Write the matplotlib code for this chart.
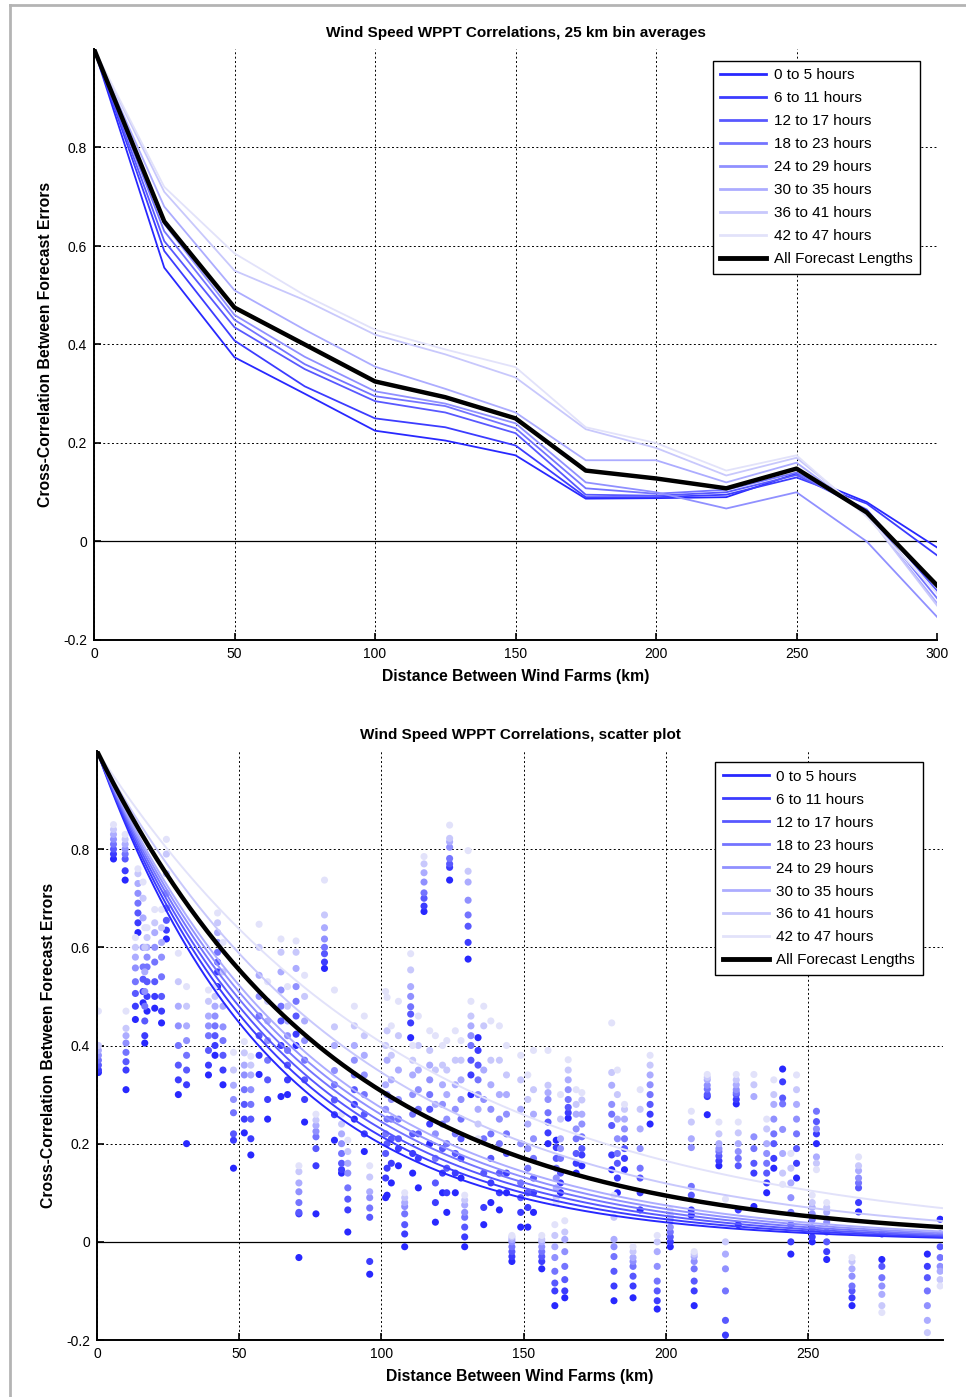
import numpy as np
import matplotlib
matplotlib.use("Agg")
import matplotlib.pyplot as plt
from matplotlib.lines import Line2D

plt.rcParams["font.family"] = ["Liberation Sans", "DejaVu Sans"]

# ---------------------------------------------------------------- labels / colours
horizon_labels = ["0 to 5 hours", "6 to 11 hours", "12 to 17 hours", "18 to 23 hours",
                  "24 to 29 hours", "30 to 35 hours", "36 to 41 hours", "42 to 47 hours"]
all_label = "All Forecast Lengths"
horizon_colors = ["#2828ff", "#3c3cff", "#5858ff", "#7474ff",
                  "#9090ff", "#acacff", "#c8c8fc", "#e2e2fa"]

# ---------------------------------------------------------------- 25 km bin averages
bin_km = [0, 25, 50, 75, 100, 125, 150, 175, 200, 225, 250, 275, 300]
bin_corr_00_05 = [1.0, 0.556, 0.374, 0.300, 0.225, 0.205, 0.175, 0.087, 0.088, 0.090, 0.138, 0.080, -0.012]
bin_corr_06_11 = [1.0, 0.590, 0.408, 0.315, 0.250, 0.232, 0.195, 0.090, 0.090, 0.095, 0.130, 0.077, -0.028]
bin_corr_12_17 = [1.0, 0.610, 0.435, 0.350, 0.285, 0.262, 0.220, 0.095, 0.093, 0.100, 0.135, 0.065, -0.100]
bin_corr_18_23 = [1.0, 0.630, 0.450, 0.360, 0.295, 0.275, 0.230, 0.108, 0.097, 0.105, 0.140, 0.060, -0.115]
bin_corr_24_29 = [1.0, 0.645, 0.460, 0.375, 0.305, 0.280, 0.240, 0.120, 0.100, 0.067, 0.100, 0.000, -0.153]
bin_corr_30_35 = [1.0, 0.680, 0.510, 0.430, 0.355, 0.310, 0.262, 0.165, 0.165, 0.120, 0.160, 0.055, -0.125]
bin_corr_36_41 = [1.0, 0.710, 0.550, 0.490, 0.420, 0.380, 0.333, 0.228, 0.190, 0.134, 0.170, 0.055, -0.130]
bin_corr_42_47 = [1.0, 0.720, 0.585, 0.500, 0.430, 0.390, 0.354, 0.232, 0.200, 0.144, 0.175, 0.050, -0.105]
bin_corr_all = [1.0, 0.650, 0.475, 0.400, 0.325, 0.293, 0.250, 0.144, 0.128, 0.108, 0.148, 0.059, -0.089]

# ---------------------------------------------------------------- exponential fits, e-folding length (km)
fit_length_km = [62, 65, 68, 71, 74, 77, 94, 111]
fit_length_all_km = 84.7

# ---------------------------------------------------------------- farm pairs: (km, corr per horizon 0-5h ... 42-47h)
pairs_000_050 = [
    (0.5, 0.345, 0.35, 0.36, 0.37, 0.38, 0.39, 0.40, 0.47),
    (5.8, 0.78, 0.79, 0.80, 0.81, 0.82, 0.83, 0.84, 0.85),
    (9.9, 0.737, 0.756, 0.78, 0.79, 0.80, 0.81, 0.82, 0.83),
    (10.2, 0.31, 0.35, 0.367, 0.386, 0.405, 0.42, 0.435, 0.47),
    (13.5, 0.453, 0.48, 0.506, 0.53, 0.558, 0.58, 0.60, 0.62),
    (14.4, 0.63, 0.65, 0.67, 0.69, 0.71, 0.73, 0.75, 0.76),
    (16.2, 0.487, 0.51, 0.535, 0.56, 0.60, 0.66, 0.70, 0.733),
    (16.8, 0.405, 0.42, 0.45, 0.48, 0.51, 0.55, 0.60, 0.64),
    (17.6, 0.47, 0.50, 0.53, 0.56, 0.58, 0.60, 0.62, 0.64),
    (20.3, 0.476, 0.50, 0.53, 0.57, 0.60, 0.63, 0.65, 0.677),
    (22.7, 0.446, 0.47, 0.50, 0.54, 0.58, 0.61, 0.64, 0.677),
    (24.4, 0.617, 0.635, 0.655, 0.68, 0.71, 0.75, 0.79, 0.82),
    (28.6, 0.30, 0.33, 0.36, 0.40, 0.44, 0.48, 0.53, 0.588),
    (31.5, 0.20, 0.32, 0.35, 0.38, 0.41, 0.44, 0.48, 0.52),
    (39.2, 0.34, 0.36, 0.39, 0.42, 0.44, 0.46, 0.49, 0.513),
    (41.5, 0.38, 0.40, 0.42, 0.44, 0.46, 0.48, 0.50, 0.52),
    (42.4, 0.52, 0.55, 0.57, 0.59, 0.61, 0.63, 0.65, 0.67),
    (44.3, 0.32, 0.35, 0.38, 0.41, 0.438, 0.48, 0.55, 0.61),
    (48.0, 0.15, 0.207, 0.22, 0.263, 0.29, 0.319, 0.35, 0.386),
]
pairs_050_100 = [
    (51.8, 0.222, 0.25, 0.28, 0.31, 0.34, 0.36, 0.385, 0.408),
    (54.1, 0.177, 0.21, 0.25, 0.28, 0.31, 0.34, 0.36, 0.378),
    (57.0, 0.341, 0.38, 0.42, 0.46, 0.50, 0.543, 0.60, 0.647),
    (60.0, 0.25, 0.29, 0.33, 0.37, 0.41, 0.45, 0.49, 0.53),
    (64.7, 0.296, 0.40, 0.45, 0.48, 0.513, 0.55, 0.59, 0.617),
    (67.0, 0.30, 0.33, 0.36, 0.39, 0.42, 0.45, 0.48, 0.52),
    (70.0, 0.40, 0.423, 0.46, 0.49, 0.52, 0.557, 0.59, 0.613),
    (71.0, -0.032, 0.057, 0.06, 0.08, 0.102, 0.12, 0.143, 0.155),
    (73.0, 0.244, 0.29, 0.33, 0.37, 0.41, 0.45, 0.50, 0.543),
    (77.0, 0.057, 0.155, 0.19, 0.214, 0.225, 0.237, 0.248, 0.26),
    (80.0, 0.557, 0.57, 0.587, 0.60, 0.617, 0.64, 0.666, 0.737),
    (83.5, 0.207, 0.259, 0.289, 0.32, 0.349, 0.40, 0.438, 0.513),
    (86.0, 0.14, 0.147, 0.16, 0.18, 0.20, 0.22, 0.24, 0.26),
    (88.2, 0.02, 0.065, 0.087, 0.11, 0.14, 0.16, 0.184, 0.207),
    (90.5, 0.25, 0.28, 0.31, 0.34, 0.37, 0.40, 0.44, 0.48),
    (94.0, 0.184, 0.22, 0.26, 0.30, 0.34, 0.38, 0.42, 0.46),
    (95.9, -0.066, -0.04, 0.05, 0.069, 0.09, 0.102, 0.132, 0.155),
]
pairs_100_150 = [
    (101.5, 0.09, 0.13, 0.18, 0.22, 0.27, 0.32, 0.40, 0.51),
    (102.0, 0.095, 0.15, 0.20, 0.25, 0.30, 0.37, 0.43, 0.498),
    (103.5, 0.12, 0.16, 0.21, 0.25, 0.29, 0.33, 0.38, 0.44),
    (106.0, 0.155, 0.19, 0.21, 0.25, 0.29, 0.35, 0.42, 0.49),
    (108.2, -0.01, 0.016, 0.035, 0.057, 0.072, 0.08, 0.09, 0.10),
    (110.3, 0.416, 0.446, 0.464, 0.479, 0.50, 0.52, 0.554, 0.587),
    (111.0, 0.14, 0.18, 0.22, 0.26, 0.30, 0.34, 0.37, 0.40),
    (113.0, 0.11, 0.17, 0.22, 0.27, 0.31, 0.35, 0.40, 0.46),
    (115.0, 0.673, 0.684, 0.70, 0.711, 0.733, 0.752, 0.77, 0.785),
    (117.0, 0.20, 0.24, 0.27, 0.30, 0.33, 0.36, 0.39, 0.43),
    (119.0, 0.04, 0.08, 0.12, 0.17, 0.22, 0.28, 0.35, 0.42),
    (121.5, 0.10, 0.14, 0.19, 0.24, 0.28, 0.32, 0.36, 0.40),
    (123.0, 0.06, 0.10, 0.15, 0.20, 0.25, 0.30, 0.35, 0.41),
    (124.0, 0.737, 0.763, 0.77, 0.781, 0.804, 0.815, 0.822, 0.849),
    (126.0, 0.10, 0.14, 0.18, 0.22, 0.27, 0.32, 0.37, 0.43),
    (128.0, 0.13, 0.17, 0.21, 0.25, 0.29, 0.33, 0.37, 0.41),
    (129.3, -0.01, 0.01, 0.03, 0.05, 0.06, 0.075, 0.085, 0.095),
    (130.5, 0.576, 0.61, 0.643, 0.666, 0.696, 0.733, 0.755, 0.797),
    (131.5, 0.30, 0.34, 0.37, 0.40, 0.42, 0.44, 0.46, 0.49),
    (134.0, 0.416, 0.39, 0.36, 0.33, 0.30, 0.27, 0.24, 0.21),
    (136.0, 0.035, 0.07, 0.14, 0.21, 0.29, 0.35, 0.44, 0.48),
    (138.5, 0.08, 0.12, 0.17, 0.22, 0.27, 0.32, 0.37, 0.45),
    (141.5, 0.065, 0.10, 0.14, 0.20, 0.25, 0.30, 0.37, 0.44),
    (144.0, 0.10, 0.14, 0.18, 0.22, 0.26, 0.30, 0.34, 0.40),
    (145.9, -0.04, -0.03, -0.02, -0.01, 0.0, 0.005, 0.01, 0.013),
    (149.0, 0.03, 0.06, 0.09, 0.12, 0.20, 0.27, 0.33, 0.38),
]
pairs_150_200 = [
    (151.5, 0.03, 0.07, 0.10, 0.15, 0.19, 0.24, 0.29, 0.34),
    (153.5, 0.06, 0.10, 0.13, 0.17, 0.21, 0.26, 0.31, 0.39),
    (156.4, -0.055, -0.04, -0.03, -0.02, -0.01, 0.0, 0.005, 0.013),
    (158.6, 0.20, 0.222, 0.244, 0.263, 0.29, 0.304, 0.319, 0.39),
    (161.0, -0.13, -0.10, -0.084, -0.06, -0.032, -0.01, 0.013, 0.035),
    (161.5, 0.207, 0.192, 0.17, 0.15, 0.13, 0.11, 0.09, 0.08),
    (163.0, 0.10, 0.12, 0.14, 0.17, 0.19, 0.21, 0.25, 0.30),
    (164.5, -0.114, -0.10, -0.077, -0.05, -0.02, 0.005, 0.02, 0.043),
    (165.7, 0.252, 0.263, 0.274, 0.29, 0.31, 0.33, 0.35, 0.371),
    (168.5, 0.14, 0.16, 0.18, 0.21, 0.23, 0.26, 0.28, 0.31),
    (170.5, 0.155, 0.177, 0.19, 0.214, 0.24, 0.26, 0.289, 0.304),
    (181.0, 0.147, 0.177, 0.237, 0.26, 0.28, 0.319, 0.345, 0.446),
    (181.8, -0.12, -0.09, -0.06, -0.03, -0.01, 0.005, 0.05, 0.095),
    (183.0, 0.10, 0.13, 0.16, 0.18, 0.21, 0.25, 0.30, 0.35),
    (185.5, 0.147, 0.17, 0.19, 0.21, 0.23, 0.25, 0.27, 0.28),
    (188.5, -0.114, -0.09, -0.07, -0.05, -0.04, -0.032, -0.02, -0.01),
    (191.0, 0.065, 0.10, 0.13, 0.15, 0.19, 0.23, 0.27, 0.31),
    (194.5, 0.24, 0.26, 0.28, 0.30, 0.32, 0.34, 0.36, 0.38),
    (197.0, -0.137, -0.12, -0.10, -0.08, -0.05, -0.02, 0.0, 0.013),
]
pairs_200_300 = [
    (201.6, -0.01, 0.0, 0.01, 0.02, 0.03, 0.045, 0.055, 0.065),
    (209.0, 0.054, 0.065, 0.095, 0.113, 0.192, 0.21, 0.244, 0.266),
    (210.0, -0.13, -0.10, -0.08, -0.055, -0.04, -0.03, -0.025, -0.02),
    (214.6, 0.259, 0.296, 0.30, 0.311, 0.319, 0.33, 0.335, 0.341),
    (218.7, 0.155, 0.165, 0.175, 0.184, 0.19, 0.20, 0.22, 0.244),
    (221.0, -0.204, -0.19, -0.16, -0.10, -0.055, -0.025, 0.0, 0.087),
    (224.8, 0.281, 0.29, 0.30, 0.304, 0.31, 0.32, 0.33, 0.341),
    (225.5, 0.035, 0.065, 0.155, 0.17, 0.184, 0.20, 0.222, 0.244),
    (231.0, 0.072, 0.14, 0.16, 0.19, 0.214, 0.296, 0.32, 0.341),
    (235.5, 0.10, 0.12, 0.14, 0.16, 0.18, 0.20, 0.23, 0.25),
    (238.0, 0.15, 0.17, 0.20, 0.22, 0.25, 0.28, 0.30, 0.33),
    (241.1, 0.352, 0.326, 0.293, 0.281, 0.229, 0.18, 0.14, 0.117),
    (244.0, -0.025, 0.0, 0.035, 0.06, 0.09, 0.12, 0.15, 0.18),
    (246.0, 0.13, 0.16, 0.19, 0.22, 0.25, 0.28, 0.31, 0.34),
    (251.5, 0.0, 0.01, 0.028, 0.045, 0.057, 0.07, 0.08, 0.095),
    (253.0, 0.20, 0.22, 0.245, 0.266, 0.23, 0.173, 0.16, 0.147),
    (256.6, -0.036, -0.02, 0.0, 0.02, 0.04, 0.06, 0.07, 0.08),
    (265.5, -0.13, -0.114, -0.10, -0.09, -0.07, -0.055, -0.04, -0.032),
    (267.8, 0.061, 0.08, 0.11, 0.12, 0.13, 0.145, 0.155, 0.173),
    (276.0, -0.036, 0.016, -0.05, -0.073, -0.09, -0.107, -0.13, -0.144),
    (292.0, -0.025, -0.05, -0.073, -0.10, -0.13, -0.16, -0.185, -0.204),
    (296.5, 0.046, 0.016, -0.01, -0.032, -0.05, -0.06, -0.077, -0.09),
]

# ---------------------------------------------------------------- figure
W, H = 966, 1397
fig = plt.figure(figsize=(W / 100, H / 100), dpi=100)
fig.patch.set_facecolor("white")

# thin grey frame along the top and left edges
fig.add_artist(Line2D([10 / W, 10 / W], [0, 1 - 5 / H], transform=fig.transFigure,
                      color="#b4b4b4", lw=2))
fig.add_artist(Line2D([10 / W, 1], [1 - 5 / H, 1 - 5 / H], transform=fig.transFigure,
                      color="#b4b4b4", lw=2))


def px_axes(left, right, top, bottom):
    return fig.add_axes([left / W, 1 - bottom / H, (right - left) / W, (bottom - top) / H])


def style_axes(ax, xmax, xticks, title):
    ax.set_xlim(0, xmax)
    ax.set_ylim(-0.2, 1.0)
    ax.set_xticks(xticks)
    ax.set_yticks([-0.2, 0, 0.2, 0.4, 0.6, 0.8])
    ax.set_yticklabels(["-0.2", "0", "0.2", "0.4", "0.6", "0.8"])
    ax.set_xticklabels([str(t) for t in xticks])
    ax.grid(True, color="black", lw=0.7, ls=(0, (2, 2.5)))
    ax.set_axisbelow(True)
    ax.axhline(0, color="black", lw=0.9, zorder=1.5)
    for s in ("top", "right"):
        ax.spines[s].set_visible(False)
    for s in ("left", "bottom"):
        ax.spines[s].set_linewidth(1.4)
    ax.tick_params(direction="in", length=5, width=1.2, labelsize=10, pad=5)
    ax.set_title(title, fontsize=11, fontweight="bold", pad=9)
    ax.set_xlabel("Distance Between Wind Farms (km)", fontsize=11.3, fontweight="bold", labelpad=6)
    ax.set_ylabel("Cross-Correlation Between Forecast Errors", fontsize=11.3,
                  fontweight="bold", labelpad=7)


def add_legend(ax, anchor):
    handles = [Line2D([], [], color=c, lw=2.0) for c in horizon_colors]
    handles.append(Line2D([], [], color="black", lw=3.5))
    leg = ax.legend(handles, horizon_labels + [all_label], loc="upper right",
                    bbox_to_anchor=anchor, fontsize=11, frameon=True, fancybox=False,
                    framealpha=1, edgecolor="black", handlelength=3.0, handletextpad=0.5,
                    labelspacing=0.585, borderpad=0.5, borderaxespad=0)
    leg.get_frame().set_linewidth(1.0)
    leg.set_zorder(10)


# ---------------------------------------------------------------- top: bin averages
ax1 = px_axes(94, 937, 49, 640)
bin_series = [bin_corr_00_05, bin_corr_06_11, bin_corr_12_17, bin_corr_18_23,
              bin_corr_24_29, bin_corr_30_35, bin_corr_36_41, bin_corr_42_47]
for vals, col in zip(bin_series, horizon_colors):
    ax1.plot(bin_km, vals, color=col, lw=1.3, zorder=3)
ax1.plot(bin_km, bin_corr_all, color="black", lw=3.2, zorder=4)
style_axes(ax1, 300, [0, 50, 100, 150, 200, 250, 300],
           "Wind Speed WPPT Correlations, 25 km bin averages")
add_legend(ax1, (0.980, 0.980))

# ---------------------------------------------------------------- bottom: scatter + fits
ax2 = px_axes(97, 943, 751, 1340)
all_pairs = pairs_000_050 + pairs_050_100 + pairs_100_150 + pairs_150_200 + pairs_200_300
pair_km = [p[0] for p in all_pairs]
for h, col in enumerate(horizon_colors):
    ax2.scatter(pair_km, [p[1 + h] for p in all_pairs], s=26, color=col,
                edgecolors="none", zorder=2)

xmax2 = 297.5
d = np.linspace(0, xmax2, 400)
for L, col in zip(fit_length_km, horizon_colors):
    ax2.plot(d, np.exp(-d / L), color=col, lw=1.4, zorder=3)
ax2.plot(d, np.exp(-d / fit_length_all_km), color="black", lw=3.2, zorder=4)
style_axes(ax2, xmax2, [0, 50, 100, 150, 200, 250],
           "Wind Speed WPPT Correlations, scatter plot")
add_legend(ax2, (0.976, 0.981))

fig.savefig("out.png", dpi=100, facecolor="white")
